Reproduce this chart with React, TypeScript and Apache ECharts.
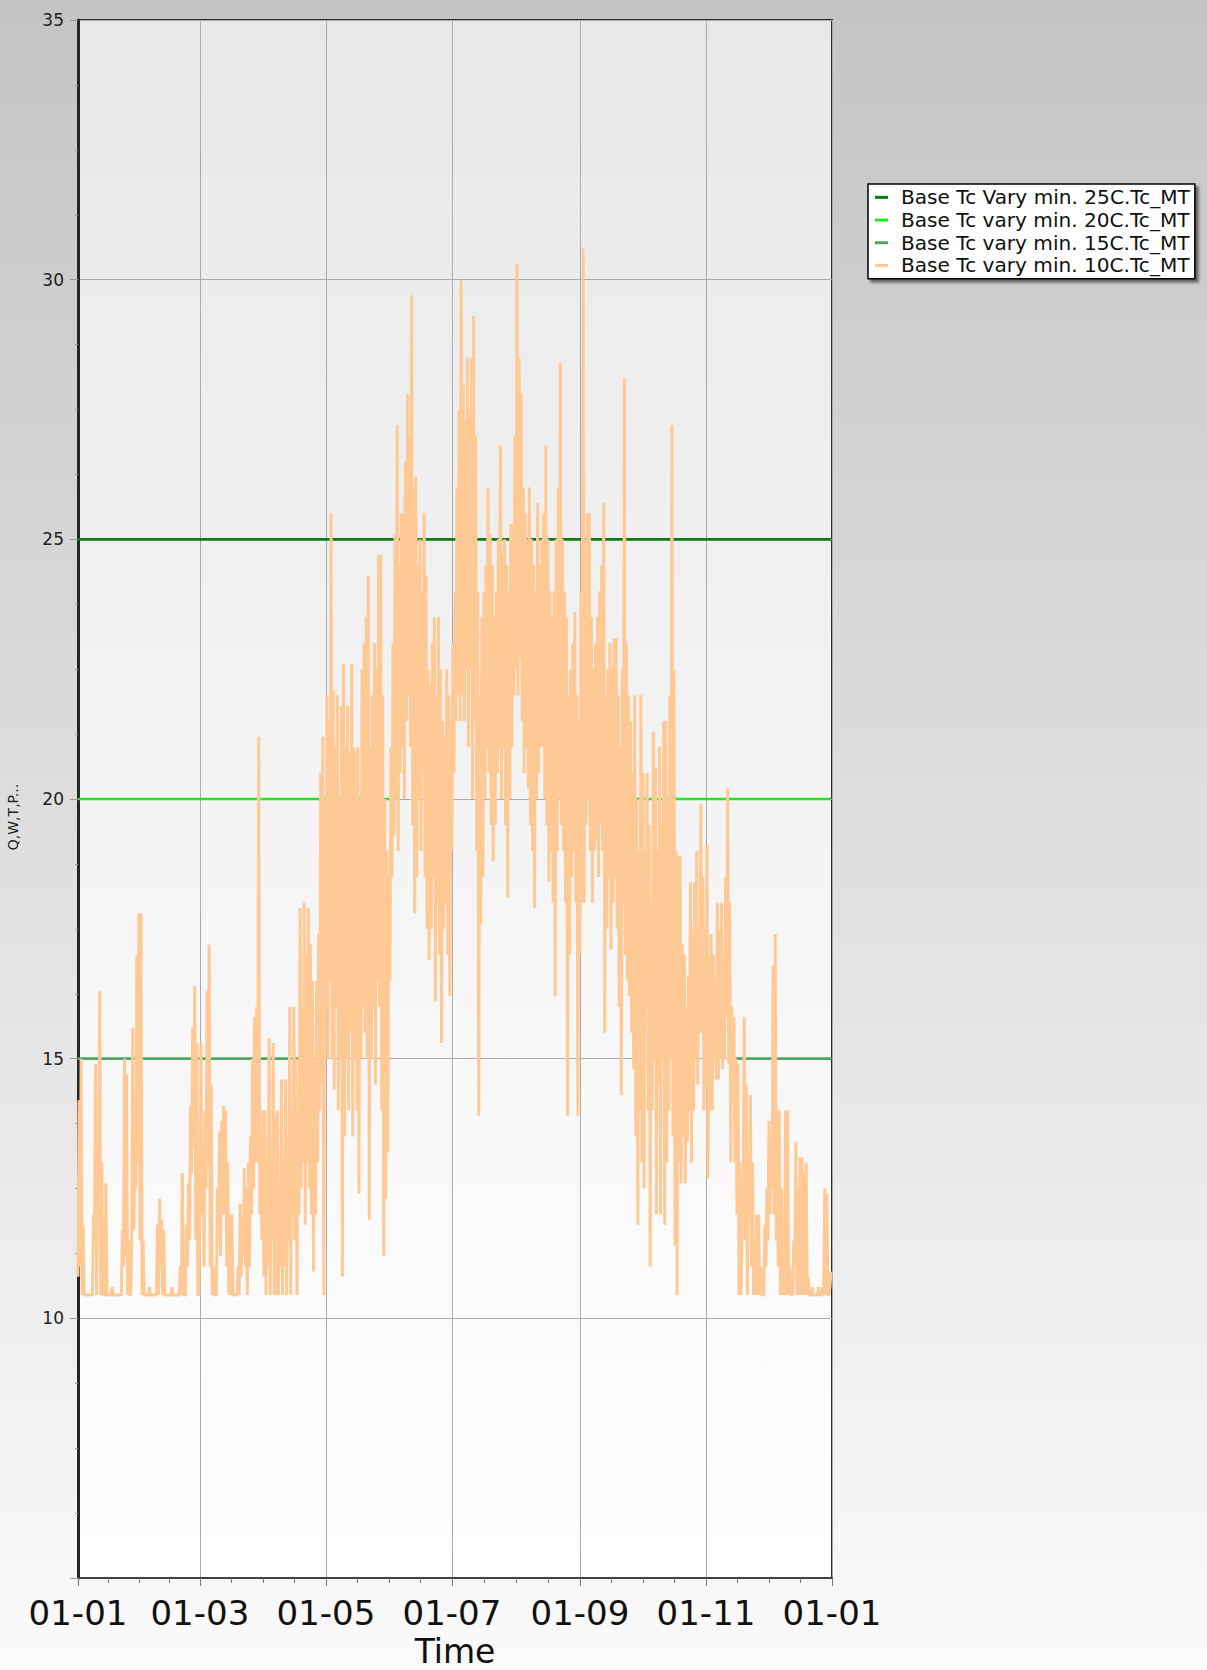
import React, { useEffect, useRef } from "react";
import * as echarts from "echarts";

const monthTickDays = [0, 59, 120, 181, 243, 304, 365];
const monthTickLabels = ["01-01", "01-03", "01-05", "01-07", "01-09", "01-11", "01-01"];

const seriesNames = [
  "Base Tc Vary min. 25C.Tc_MT",
  "Base Tc vary min. 20C.Tc_MT",
  "Base Tc vary min. 15C.Tc_MT",
  "Base Tc vary min. 10C.Tc_MT",
];
const seriesColors = ["#0d7a12", "#22e622", "#4ba85c", "#ffc996"];
// minimum levels of the three green series (above them they coincide with, and hide under, the 10C curve)
const seriesMinimums = [25, 20, 15];

// 10C series: daily minimum and daily maximum (day 0 = 01-01)
const dailyLow = [
  10.8, 11.0, 10.45, 10.45, 10.45, 10.45, 10.45, 10.45, 11.5, 10.45,
  12.0, 10.45, 10.45, 10.45, 10.45, 10.45, 10.45, 10.45, 10.45, 10.45,
  10.45, 10.45, 11.0, 11.2, 10.45, 10.45, 11.5, 11.7, 12.5, 13.0,
  11.5, 10.45, 10.45, 10.45, 10.45, 10.45, 10.45, 10.45, 10.45, 10.45,
  11.0, 10.45, 10.45, 10.45, 10.45, 10.45, 10.45, 10.45, 10.45, 10.45,
  10.45, 10.45, 10.45, 11.0, 11.5, 12.8, 13.3, 11.5, 10.45, 12.0,
  12.0, 11.0, 12.5, 13.0, 11.0, 10.45, 10.45, 10.45, 11.5, 11.2,
  12.0, 12.0, 11.0, 10.45, 10.45, 10.45, 10.45, 10.45, 10.45, 10.8,
  11.2, 11.0, 10.45, 11.0, 12.0, 12.5, 13.0, 13.0, 12.0, 11.5,
  10.8, 10.45, 11.0, 10.45, 11.5, 10.45, 10.45, 10.45, 11.0, 10.45,
  11.0, 10.45, 11.5, 10.45, 12.0, 11.5, 10.45, 12.0, 12.5, 13.0,
  11.8, 13.0, 12.5, 12.0, 10.9, 12.0, 13.0, 14.0, 14.5, 10.45,
  16.0, 15.0, 16.5, 15.0, 14.4, 16.0, 14.0, 15.0, 10.8, 13.5,
  15.0, 14.0, 15.5, 13.5, 15.0, 14.0, 12.4, 15.0, 16.0, 15.5,
  15.0, 11.9, 15.0, 16.0, 14.5, 16.5, 16.0, 14.0, 11.2, 12.3,
  13.2, 16.5, 18.5, 19.3, 20.0, 19.0, 20.5, 21.0, 20.0, 21.5,
  22.0, 21.0, 19.5, 17.8, 18.5, 20.0, 19.0, 20.5, 18.5, 17.5,
  16.9, 17.5, 18.5, 16.1, 18.0, 17.0, 15.3, 17.5, 18.0, 17.0,
  16.2, 19.0, 20.5, 21.5, 22.0, 21.5, 22.0, 21.5, 22.5, 21.0,
  22.5, 20.0, 21.5, 19.0, 13.9, 17.6, 18.5, 20.0, 21.0, 20.5,
  19.5, 18.8, 19.5, 20.5, 21.0, 20.0, 21.0, 19.5, 18.1, 20.0,
  21.0, 22.0, 22.5, 22.0, 22.7, 21.5, 20.5, 21.0, 20.2, 19.5,
  19.0, 17.9, 20.0, 20.5, 21.0, 21.0, 20.0, 19.5, 18.4, 19.0,
  18.0, 16.2, 19.0, 20.0, 19.5, 19.0, 18.0, 13.9, 17.0, 18.5,
  19.0, 18.0, 13.9, 17.0, 18.0, 18.0, 19.5, 20.0, 19.0, 18.0,
  19.0, 19.2, 18.5, 19.5, 19.0, 15.5, 17.5, 18.5, 17.1, 18.0,
  18.5, 17.5, 16.0, 14.3, 18.0, 17.0, 16.5, 16.2, 15.5, 14.8,
  13.5, 11.8, 14.0, 13.0, 12.5, 16.0, 14.0, 11.0, 14.0, 15.0,
  12.0, 14.5, 12.0, 15.0, 11.8, 13.0, 14.0, 15.0, 13.5, 11.4,
  10.45, 13.0, 12.6, 13.5, 12.6, 13.4, 14.0, 13.0, 14.0, 15.0,
  14.5, 15.5, 15.5, 14.0, 14.5, 12.7, 14.0, 14.0, 15.0, 14.6,
  14.6, 15.0, 14.8, 15.0, 15.8, 14.9, 13.0, 14.9, 13.0, 12.0,
  10.45, 10.45, 12.0, 11.5, 10.45, 12.0, 11.0, 10.45, 10.45, 10.45,
  10.45, 10.45, 10.45, 11.0, 11.5, 12.0, 12.5, 12.0, 11.5, 11.0,
  10.45, 10.45, 10.45, 10.45, 10.45, 10.45, 10.45, 11.0, 10.45, 10.45,
  10.45, 10.45, 10.45, 10.45, 10.45, 10.45, 10.45, 10.45, 10.45, 10.45,
  10.45, 10.45, 10.45, 10.45, 10.6,
];
const dailyHigh = [
  14.2, 15.0, 11.8, 10.45, 10.45, 10.45, 10.45, 12.0, 14.9, 12.2,
  16.3, 13.0, 10.45, 12.6, 10.45, 10.45, 10.6, 10.45, 10.45, 10.45,
  10.45, 11.7, 15.0, 14.7, 11.5, 10.45, 15.6, 13.0, 17.0, 17.8,
  17.8, 11.5, 10.45, 10.45, 10.6, 10.45, 10.45, 10.45, 11.8, 12.3,
  11.9, 11.7, 10.45, 10.45, 10.45, 10.6, 10.45, 10.45, 10.45, 11.0,
  12.8, 10.45, 11.8, 12.6, 14.1, 15.6, 16.4, 15.3, 10.45, 15.3,
  13.3, 14.0, 16.3, 17.2, 14.5, 11.0, 10.45, 12.5, 13.6, 13.8,
  14.1, 14.0, 13.0, 12.0, 12.0, 10.45, 10.45, 11.0, 12.2, 12.0,
  12.9, 12.5, 13.0, 13.5, 15.0, 15.8, 16.0, 21.2, 13.5, 14.0,
  14.0, 13.0, 15.4, 12.5, 15.3, 13.9, 14.0, 12.0, 14.6, 13.0,
  14.6, 13.5, 16.0, 14.0, 16.0, 15.0, 14.0, 17.9, 16.0, 18.0,
  17.0, 17.9, 17.2, 16.5, 15.0, 16.5, 17.4, 20.5, 21.2, 20.0,
  22.0, 21.5, 25.5, 22.1, 21.0, 22.0, 20.0, 21.8, 22.6, 21.0,
  21.8, 20.9, 22.6, 21.0, 20.9, 21.0, 20.0, 22.5, 23.0, 23.5,
  24.3, 21.0, 22.0, 23.0, 22.5, 24.7, 24.7, 22.0, 20.0, 19.0,
  18.5, 21.0, 23.0, 25.1, 27.2, 24.5, 25.5, 25.5, 26.5, 27.8,
  27.0, 29.7, 26.0, 26.2, 24.5, 25.0, 24.0, 25.5, 24.3, 22.5,
  22.2, 23.0, 23.5, 22.0, 23.5, 22.5, 21.5, 21.2, 22.5, 22.0,
  21.5, 23.0, 24.0, 26.0, 27.5, 30.0, 28.0, 27.3, 28.5, 27.4,
  28.5, 29.3, 27.0, 24.0, 22.0, 23.5, 24.0, 24.5, 26.0, 25.1,
  24.5, 23.5, 24.0, 25.0, 26.8, 24.7, 25.0, 24.5, 24.0, 25.3,
  25.3, 27.0, 30.3, 28.5, 27.8, 26.0, 25.5, 25.0, 26.0, 25.0,
  24.5, 24.0, 25.7, 24.5, 25.0, 25.5, 26.8, 25.0, 24.0, 23.5,
  24.0, 25.0, 26.0, 28.4, 25.0, 24.0, 23.5, 22.0, 22.5, 23.0,
  23.6, 22.0, 21.5, 24.0, 30.6, 25.0, 25.5, 25.5, 23.5, 22.5,
  23.0, 23.5, 24.0, 24.5, 25.7, 22.0, 22.5, 23.0, 22.5, 23.1,
  23.1, 22.0, 21.0, 22.5, 28.1, 23.0, 22.0, 21.5, 20.5, 22.0,
  20.0, 19.0, 22.0, 20.5, 19.0, 20.5, 19.5, 18.0, 21.3, 20.6,
  19.0, 21.0, 19.5, 21.5, 21.5, 20.0, 22.0, 27.2, 22.5, 19.0,
  18.9, 18.9, 17.2, 17.0, 16.0, 16.6, 18.4, 17.5, 18.4, 19.0,
  17.0, 19.9, 18.5, 17.5, 19.1, 17.0, 17.4, 17.0, 16.5, 18.0,
  17.5, 18.0, 17.0, 18.5, 20.2, 18.0, 16.0, 15.8, 15.0, 14.9,
  13.0, 12.0, 15.8, 14.5, 13.0, 14.3, 13.0, 11.5, 12.0, 12.0,
  11.0, 10.45, 11.8, 12.5, 13.8, 13.0, 16.8, 17.4, 14.0, 14.0,
  12.5, 11.8, 14.0, 14.0, 11.0, 10.45, 11.5, 13.4, 12.5, 13.1,
  13.1, 12.8, 13.0, 10.8, 10.45, 10.6, 10.45, 10.45, 10.6, 10.45,
  10.6, 12.5, 12.4, 10.45, 10.9,
];

const FONT = "DejaVu Sans";

export default function App() {
  const ref = useRef<HTMLDivElement>(null);

  useEffect(() => {
    if (!ref.current) return;
    const chart = echarts.init(ref.current, null, { renderer: "svg" });

    const minorDays: number[] = [];
    for (let i = 0; i < monthTickDays.length - 1; i++) {
      const a = monthTickDays[i];
      const b = monthTickDays[i + 1];
      for (let k = 1; k < 4; k++) minorDays.push(a + ((b - a) * k) / 4);
    }

    // each day: its minimum, then its maximum half a day later
    const tc10: number[][] = [];
    dailyLow.forEach((lo, d) => {
      tc10.push([d, lo]);
      tc10.push([d + 0.5, dailyHigh[d]]);
    });

    const series = seriesNames.map((name, s) => ({
      name,
      type: "line",
      xAxisIndex: 0,
      yAxisIndex: 0,
      // green series: visible only where they sit on their minimum; elsewhere they lie under the 10C curve
      data:
        s < 3
          ? tc10.map(([x, v]) => [x, v <= seriesMinimums[s] ? seriesMinimums[s] : null])
          : tc10,
      connectNulls: false,
      showSymbol: false,
      symbol: "none",
      lineStyle: { color: seriesColors[s], width: s === 3 ? 3 : 2.6, join: "miter", miterLimit: 1 },
      itemStyle: { color: seriesColors[s] },
      emphasis: { disabled: true },
      silent: true,
      z: 2 + s,
    }));

    chart.setOption({
      animation: false,
      backgroundColor: new echarts.graphic.LinearGradient(0, 0, 0, 1, [
        { offset: 0, color: "#c4c4c4" },
        { offset: 1, color: "#fafafa" },
      ]),
      textStyle: { fontFamily: FONT },
      grid: {
        left: 78,
        top: 20,
        width: 754,
        height: 1558,
        containLabel: false,
        outerBoundsMode: "none",
        show: true,
        borderColor: "#2e2e2e",
        borderWidth: 2,
        backgroundColor: new echarts.graphic.LinearGradient(0, 0, 0, 1, [
          { offset: 0, color: "#e8e8e8" },
          { offset: 1, color: "#ffffff" },
        ]),
      },
      legend: {
        orient: "vertical",
        left: 868,
        top: 184,
        icon: "rect",
        itemWidth: 13,
        itemHeight: 3,
        itemGap: 0,
        padding: [2, 5, 2, 7],
        backgroundColor: "#ffffff",
        borderColor: "#000000",
        borderWidth: 1.5,
        shadowColor: "rgba(0,0,0,0.55)",
        shadowBlur: 3,
        shadowOffsetX: 3,
        shadowOffsetY: 3,
        selectedMode: false,
        textStyle: {
          fontFamily: FONT,
          fontSize: 20.1,
          color: "#111111",
          lineHeight: 22.7,
          padding: [0, 0, 0, 8],
        },
        data: seriesNames,
      },
      xAxis: [
        {
          type: "value",
          min: 0,
          max: 365,
          position: "bottom",
          name: "Time",
          nameLocation: "middle",
          nameGap: 55,
          nameTextStyle: { fontFamily: FONT, fontSize: 33, color: "#111111", lineHeight: 33 },
          axisLine: { show: true, onZero: false, lineStyle: { color: "#404040", width: 2 } },
          axisTick: {
            show: true,
            customValues: monthTickDays,
            length: 8,
            lineStyle: { color: "#777777", width: 1 },
          },
          axisLabel: {
            customValues: monthTickDays,
            formatter: (v: number) => {
              const idx = monthTickDays.indexOf(Math.round(v));
              return idx >= 0 ? monthTickLabels[idx] : "";
            },
            fontFamily: FONT,
            fontSize: 34,
            color: "#111111",
            margin: 18,
          },
          splitLine: { show: true, lineStyle: { color: "#ababab", width: 1 } },
        },
        {
          type: "value",
          min: 0,
          max: 365,
          position: "bottom",
          axisLine: { show: false },
          axisLabel: { show: false },
          splitLine: { show: false },
          axisTick: {
            show: true,
            customValues: minorDays,
            length: 5,
            lineStyle: { color: "#777777", width: 1 },
          },
        },
      ],
      yAxis: {
        type: "value",
        min: 5,
        max: 35,
        interval: 5,
        name: "Q,W,T,P...",
        nameLocation: "middle",
        nameGap: 58,
        nameTextStyle: { fontFamily: FONT, fontSize: 14, color: "#222222", padding: [0, 36, 0, 0] },
        axisLine: { show: true, onZero: false, lineStyle: { color: "#262626", width: 3 } },
        axisTick: { show: true, length: 8, lineStyle: { color: "#999999", width: 1 } },
        minorTick: { show: true, splitNumber: 4, length: 3, lineStyle: { color: "#999999", width: 1 } },
        axisLabel: {
          fontFamily: FONT,
          fontSize: 17,
          color: "#222222",
          margin: 14,
          formatter: (v: number) => (v === 5 ? "" : String(v)),
        },
        splitLine: { show: true, lineStyle: { color: "#ababab", width: 1 } },
      },
      series,
    });

    return () => chart.dispose();
  }, []);

  return (
    <div
      ref={ref}
      style={{ position: "absolute", left: 0, top: 0, width: 1207, height: 1670 }}
    />
  );
}
